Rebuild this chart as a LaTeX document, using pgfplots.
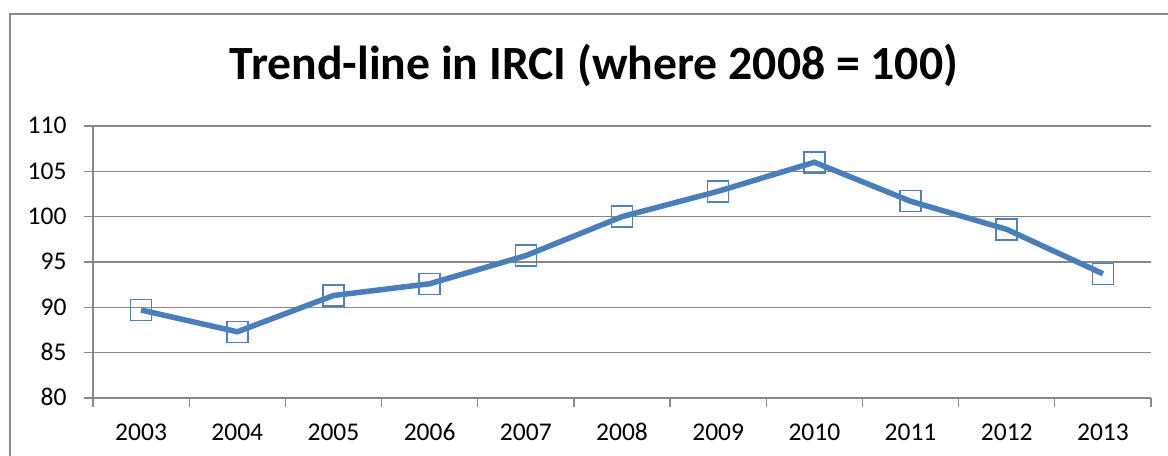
\documentclass[border=0pt]{standalone}
\usepackage{fontspec}
\setmainfont{Carlito}
\usepackage{pgfplots}
\pgfplotsset{compat=1.18}
\definecolor{gridgray}{HTML}{888888}
\definecolor{serblue}{HTML}{4A7EBB}
\definecolor{markblue}{HTML}{4F81BD}
\begin{document}
\begin{tikzpicture}[x=1bp,y=1bp]
\draw[gridgray, line width=1.3bp] (10,0) -- (10,442) -- (1168,442);
\node[anchor=base, inner sep=0pt] at (594,376) {\resizebox{728bp}{!}{\bfseries Trend-line in IRCI (where 2008 = 100)}};
\begin{axis}[
  at={(93bp,58bp)}, anchor=south west,
  scale only axis, width=1058bp, height=272bp,
  xmin=-0.5, xmax=10.5, ymin=80, ymax=110,
  axis x line*=bottom, axis y line*=left,
  axis line style={draw=gridgray, line width=1.3bp, -},
  ytick={80,85,...,110},
  ymajorgrids, grid style={draw=gridgray, line width=1.3bp},
  xtick={0,...,10},
  xticklabels={2003,2004,2005,2006,2007,2008,2009,2010,2011,2012,2013},
  major tick length=9bp,
  tick align=outside,
  major x tick style={draw=none},
  major y tick style={draw=gridgray, line width=1.3bp},
  extra x ticks={-0.5,0.5,...,10.5},
  extra x tick labels={},
  extra x tick style={grid=none, major x tick style={draw=gridgray, line width=1.3bp}},
  /pgf/number format/assume math mode=true,
  tick label style={font=\fontsize{25.5bp}{30bp}\selectfont, text=black},
  yticklabel style={anchor=east, xshift=-14bp, text height=16bp, text depth=0pt},
  xticklabel style={anchor=north, yshift=-14bp, text height=16bp, text depth=0pt},
  clip=false,
]
\addplot[serblue, line width=5.5bp, mark=square, mark size=10.5bp,
  mark options={draw=markblue, line width=1.5bp, fill=none}]
  coordinates {
  (0,89.7) (1,87.3) (2,91.3) (3,92.6) (4,95.7) (5,100.0)
  (6,102.8) (7,106.0) (8,101.7) (9,98.6) (10,93.7)
  };
\end{axis}
\pgfresetboundingbox
\path[use as bounding box] (0,0) rectangle (1168,456);
\end{tikzpicture}
\end{document}
